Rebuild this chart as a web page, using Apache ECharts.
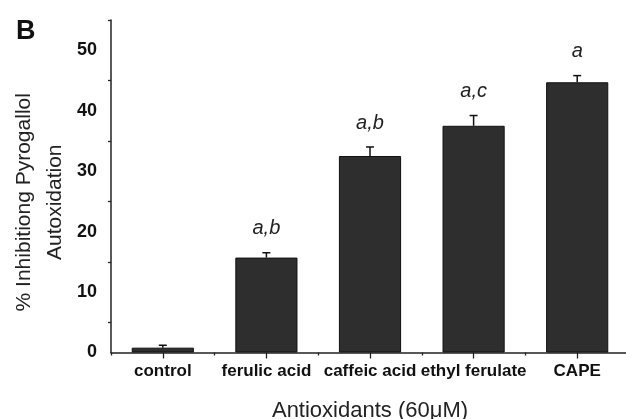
<!DOCTYPE html>
<html>
<head>
<meta charset="utf-8">
<script src="https://cdn.jsdelivr.net/npm/echarts@6/dist/echarts.min.js"></script>
<style>
  html, body { margin: 0; padding: 0; background: #fff; }
  #chart { width: 626px; height: 419px; }
</style>
</head>
<body>
<div id="chart"></div>
<script>
// Inhibition of pyrogallol autoxidation by phenolic antioxidants (60 µM)
const categories = ['control', 'ferulic acid', 'caffeic acid', 'ethyl ferulate', 'CAPE'];
const inhibition = [0.8, 15.7, 32.5, 37.5, 44.7];
const errorSD = [0.4, 0.8, 1.5, 1.7, 1.1];
const significance = ['', 'a,b', 'a,b', 'a,c', 'a'];
const yMajorTicks = [0, 10, 20, 30, 40, 50];
const yMinorTicks = [5, 15, 25, 35, 45, 55];

const FONT = '"Liberation Sans", Arial, sans-serif';
const AXIS_COLOR = '#222';

const chart = echarts.init(document.getElementById('chart'), null, { renderer: 'canvas' });

const errorData = inhibition.map((v, i) => [i, v, v + errorSD[i], significance[i]]);

chart.setOption({
  animation: false,
  backgroundColor: '#fff',
  title: {
    text: 'B',
    left: 11,
    top: 13,
    textStyle: { fontFamily: FONT, fontSize: 27, fontWeight: 'bold', color: '#111' }
  },
  grid: { left: 111, top: 20, right: -3, bottom: 66.5, containLabel: false, outerBoundsMode: 'none' },
  xAxis: [
    {
      type: 'category',
      data: categories,
      boundaryGap: true,
      axisLine: { show: true, lineStyle: { color: AXIS_COLOR, width: 1.5 } },
      axisTick: { show: true, length: 3, lineStyle: { color: AXIS_COLOR, width: 1.3 } },
      axisLabel: {
        interval: 0,
        hideOverlap: false,
        margin: 10,
        fontFamily: FONT, fontSize: 17, fontWeight: 'bold', color: '#111'
      },
      name: 'Antioxidants (60\u03bcM)',
      nameLocation: 'middle',
      nameGap: 47,
      nameMoveOverlap: false,
      nameTextStyle: { fontFamily: FONT, fontSize: 22, color: '#222' }
    },
    {
      type: 'category',
      data: categories,
      position: 'bottom',
      boundaryGap: true,
      axisLine: { show: false },
      axisTick: { show: true, alignWithLabel: true, interval: 0, length: 6, lineStyle: { color: AXIS_COLOR, width: 1.3 } },
      axisLabel: { show: false }
    }
  ],
  yAxis: [
    {
      type: 'value',
      min: 0,
      max: 55,
      interval: 5,
      splitLine: { show: false },
      axisLine: { show: true, lineStyle: { color: AXIS_COLOR, width: 1.5 } },
      axisTick: { show: true, length: 3, customValues: yMinorTicks, lineStyle: { color: AXIS_COLOR, width: 1.3 } },
      axisLabel: {
        customValues: yMajorTicks,
        margin: 14,
        fontFamily: FONT, fontSize: 18, fontWeight: 'bold', color: '#111'
      },
      name: '% Inhibitiong Pyrogallol\nAutoxidation',
      nameLocation: 'middle',
      nameGap: 40,
      nameRotate: 90,
      nameMoveOverlap: false,
      nameTextStyle: {
        fontFamily: FONT, fontSize: 21, color: '#222', lineHeight: 31,
        // shifts the rotated title a little below the axis centre
        padding: [0, 32, 0, 0]
      }
    },
    {
      type: 'value',
      min: 0,
      max: 55,
      interval: 5,
      splitLine: { show: false },
      axisLine: { show: false },
      axisTick: { show: true, length: 6, customValues: yMajorTicks, lineStyle: { color: AXIS_COLOR, width: 1.3 } },
      axisLabel: { show: false }
    }
  ],
  series: [
    {
      type: 'bar',
      data: inhibition,
      xAxisIndex: 0,
      yAxisIndex: 0,
      barWidth: '60%',
      itemStyle: { color: '#2e2e2e', borderColor: '#111', borderWidth: 1 },
      z: 2
    },
    {
      type: 'custom',
      xAxisIndex: 0,
      yAxisIndex: 0,
      data: errorData,
      z: 3,
      renderItem: function (params, api) {
        const x = api.value(0);
        const base = api.coord([x, api.value(1)]);
        const top = api.coord([x, api.value(2)]);
        const capHalf = 4;
        const children = [
          { type: 'line', shape: { x1: base[0], y1: base[1], x2: top[0], y2: top[1] },
            style: { stroke: '#111', lineWidth: 1.5 } },
          { type: 'line', shape: { x1: top[0] - capHalf, y1: top[1], x2: top[0] + capHalf, y2: top[1] },
            style: { stroke: '#111', lineWidth: 1.5 } }
        ];
        const txt = api.value(3);
        if (txt) {
          children.push({
            type: 'text',
            style: {
              x: top[0], y: top[1] - 14,
              text: txt,
              textAlign: 'center',
              textVerticalAlign: 'bottom',
              fontFamily: FONT, fontSize: 20, fontStyle: 'italic', fill: '#222'
            }
          });
        }
        return { type: 'group', children: children };
      }
    }
  ]
});
</script>
</body>
</html>
